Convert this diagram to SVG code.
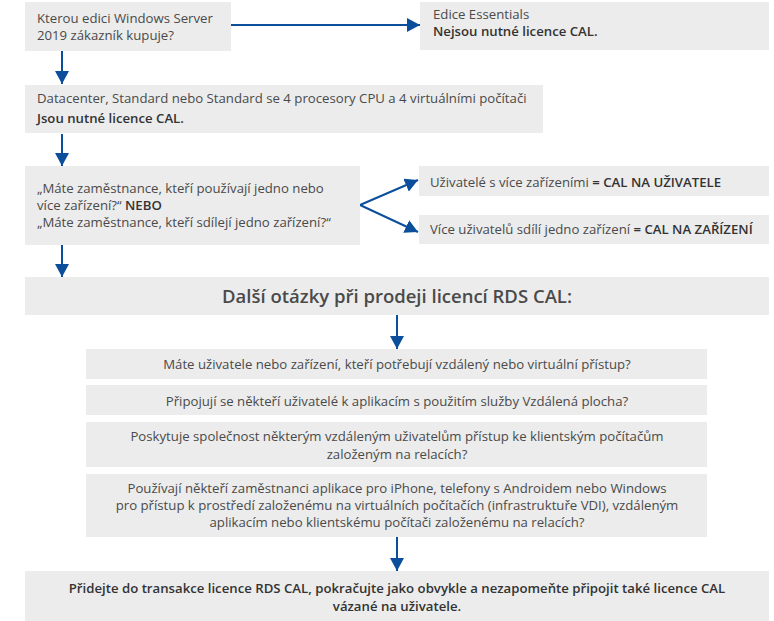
<svg xmlns="http://www.w3.org/2000/svg" width="774" height="621" viewBox="0 0 774 621">
<defs>
<marker id="ah" viewBox="0 0 13 14" refX="13" refY="7" markerWidth="13" markerHeight="14" markerUnits="userSpaceOnUse" orient="auto">
<path d="M0,0 L13,7 L0,14 Z" fill="#0b4f9c"/>
</marker>
<style>
.box{fill:#ececec}
text{font-family:"Open Sans","Noto Sans","Liberation Sans",sans-serif;font-size:13.2px;fill:#4a4a4a}
.b{font-weight:600;fill:#333}
.c{text-anchor:middle}
.h{font-size:18.5px;font-weight:600;fill:#4a4a4a}
.ln{stroke:#0b4f9c;stroke-width:2;fill:none}
</style>
</defs>
<g id="connectors">
<line class="ln" x1="231" y1="25" x2="420" y2="25" marker-end="url(#ah)"/>
<line class="ln" x1="62" y1="51" x2="62" y2="84" marker-end="url(#ah)"/>
<line class="ln" x1="62" y1="134" x2="62" y2="166" marker-end="url(#ah)"/>
<line class="ln" x1="360" y1="205" x2="418" y2="180" marker-end="url(#ah)"/>
<line class="ln" x1="360" y1="205" x2="418" y2="232" marker-end="url(#ah)"/>
<line class="ln" x1="62" y1="245" x2="62" y2="277" marker-end="url(#ah)"/>
<line class="ln" x1="397" y1="315" x2="397" y2="349" marker-end="url(#ah)"/>
<line class="ln" x1="397" y1="537" x2="397" y2="571" marker-end="url(#ah)"/>
</g>
<g id="n1">
<rect class="box" x="25" y="2" width="206" height="49"/>
<text x="37" y="23">Kterou edici Windows Server</text>
<text x="37" y="40">2019 zákazník kupuje?</text>
</g>
<g id="n2">
<rect class="box" x="420" y="2" width="349" height="48"/>
<text x="433" y="19">Edice Essentials</text>
<text class="b" x="433" y="36">Nejsou nutné licence CAL.</text>
</g>
<g id="n3">
<rect class="box" x="25" y="85" width="518" height="48"/>
<text x="37" y="103">Datacenter, Standard nebo Standard se 4 procesory CPU a 4 virtuálními počítači</text>
<text class="b" x="37" y="123">Jsou nutné licence CAL.</text>
</g>
<g id="n4">
<rect class="box" x="25" y="166" width="335" height="79"/>
<text x="37" y="193">„Máte zaměstnance, kteří používají jedno nebo</text>
<text x="37" y="210">více zařízení?“ <tspan class="b">NEBO</tspan></text>
<text x="37" y="227">„Máte zaměstnance, kteří sdílejí jedno zařízení?“</text>
</g>
<g id="n5">
<rect class="box" x="419" y="166" width="350" height="30"/>
<text x="430" y="187">Uživatelé s více zařízeními <tspan class="b">= CAL NA UŽIVATELE</tspan></text>
</g>
<g id="n6">
<rect class="box" x="419" y="215" width="350" height="29"/>
<text x="430" y="234">Více uživatelů sdílí jedno zařízení <tspan class="b">= CAL NA ZAŘÍZENÍ</tspan></text>
</g>
<g id="n7">
<rect class="box" x="25" y="277" width="744" height="38"/>
<text class="c h" x="397" y="303">Další otázky při prodeji licencí RDS CAL:</text>
</g>
<g id="q1">
<rect class="box" x="86" y="349" width="621" height="30"/>
<text class="c" x="397" y="369">Máte uživatele nebo zařízení, kteří potřebují vzdálený nebo virtuální přístup?</text>
</g>
<g id="q2">
<rect class="box" x="86" y="385" width="621" height="30"/>
<text class="c" x="397" y="406">Připojují se někteří uživatelé k aplikacím s použitím služby Vzdálená plocha?</text>
</g>
<g id="q3">
<rect class="box" x="86" y="422" width="621" height="45"/>
<text class="c" x="397" y="441">Poskytuje společnost některým vzdáleným uživatelům přístup ke klientským počítačům</text>
<text class="c" x="397" y="459">založeným na relacích?</text>
</g>
<g id="q4">
<rect class="box" x="86" y="474" width="621" height="63"/>
<text class="c" x="397" y="493">Používají někteří zaměstnanci aplikace pro iPhone, telefony s Androidem nebo Windows</text>
<text class="c" x="397" y="510">pro přístup k prostředí založenému na virtuálních počítačích (infrastruktuře VDI), vzdáleným</text>
<text class="c" x="397" y="527">aplikacím nebo klientskému počítači založenému na relacích?</text>
</g>
<g id="n8">
<rect class="box" x="25" y="571" width="744" height="50"/>
<text class="c b" x="397" y="593">Přidejte do transakce licence RDS CAL, pokračujte jako obvykle a nezapomeňte připojit také licence CAL</text>
<text class="c b" x="397" y="611">vázané na uživatele.</text>
</g>
</svg>
